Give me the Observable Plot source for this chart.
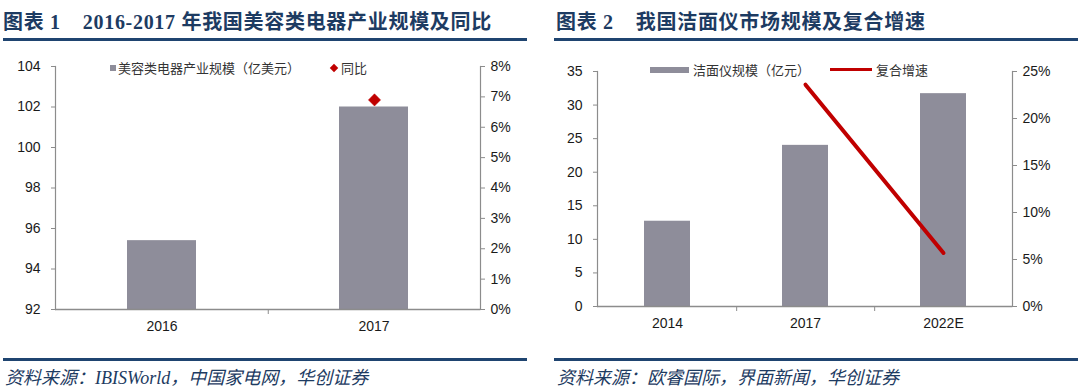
<!DOCTYPE html>
<html>
<head>
<meta charset="utf-8">
<script src="https://cdn.jsdelivr.net/npm/d3@7"></script>
<script src="https://cdn.jsdelivr.net/npm/@observablehq/plot@0.6"></script>
<style>
  html, body { margin: 0; padding: 0; background: #fff; }
  body { width: 1080px; height: 392px; position: relative; overflow: hidden; font-family: "Liberation Sans", Arial, sans-serif; }
  .title { position: absolute; top: 6px; font-family: "Liberation Serif", "Noto Sans CJK SC", serif; font-weight: 700; font-size: 20px; color: #1d3b62; white-space: nowrap; letter-spacing: 0.7px; }
  .title .gap { display: inline-block; width: 22px; }
  .hr { position: absolute; height: 2.5px; background: #1f4470; }
  .src { position: absolute; top: 363px; font-family: "Liberation Serif", "Noto Sans CJK SC", serif; font-style: italic; font-size: 18px; color: #1d3b62; white-space: nowrap; }
  .chart { position: absolute; top: 45px; }
  .legend { position: absolute; font-family: "Noto Sans CJK SC"; font-size: 13px; color: #333; white-space: nowrap; display: flex; align-items: center; }
  .sw { display: inline-block; margin-right: 2px; }
</style>
</head>
<body>
<div class="title" style="left:3px">图表 1<span class="gap"></span>2016-2017 年我国美容类电器产业规模及同比</div>
<div class="hr" style="left:3px; width:524px; top:38px"></div>
<div class="hr" style="left:3px; width:524px; top:358px"></div>
<div class="src" style="left:5px">资料来源：IBISWorld，中国家电网，华创证券</div>

<div class="title" style="left:556px">图表 2<span class="gap"></span>我国洁面仪市场规模及复合增速</div>
<div class="hr" style="left:554px; width:524px; top:38px"></div>
<div class="hr" style="left:554px; width:524px; top:358px"></div>
<div class="src" style="left:557px">资料来源：欧睿国际，界面新闻，华创证券</div>

<div id="c1a" class="chart" style="left:0px"></div>
<div id="c1b" class="chart" style="left:0px"></div>
<div id="c2a" class="chart" style="left:540px"></div>
<div id="c2b" class="chart" style="left:540px"></div>

<div class="legend" style="left:110px; top:58px">
  <span class="sw" style="width:6px;height:6px;background:#8e8d9a;margin-right:2px"></span>美容类电器产业规模（亿美元）
</div>
<div class="legend" style="left:331px; top:58px">
  <span class="sw" style="width:6px;height:6px;background:#c00000;transform:rotate(45deg);margin-right:4px"></span>同比
</div>
<div class="legend" style="left:650px; top:60px">
  <span class="sw" style="width:39px;height:6px;background:#8e8d9a;margin-right:4px"></span>洁面仪规模（亿元）
</div>
<div class="legend" style="left:830px; top:60px">
  <span class="sw" style="width:42px;height:3.5px;background:#c00000;margin-right:4px"></span>复合增速
</div>

<script>
// ---------- Data: chart 1 ----------
const years1 = ["2016", "2017"];
const scale1 = [95.4, 102.0];          // 美容类电器产业规模（亿美元）
const yoyYears1 = ["2017"];
const yoy1 = [6.9];                     // 同比 (%)
const yTicks1 = [92, 94, 96, 98, 100, 102, 104];
const pctTicks1 = [0, 1, 2, 3, 4, 5, 6, 7, 8];

// ---------- Data: chart 2 ----------
const years2 = ["2014", "2017", "2022E"];
const scale2 = [12.7, 24.0, 31.7];      // 洁面仪规模（亿元）
const cagrYears2 = ["2017", "2022E"];
const cagr2 = [23.6, 5.7];              // 复合增速 (%)
const yTicks2 = [0, 5, 10, 15, 20, 25, 30, 35];
const pctTicks2 = [0, 5, 10, 15, 20, 25];

const BAR = "#8e8d9a", RED = "#c00000", AXIS = "#8c8c8c", TXT = "#1a1a1a";
const W = 540, H = 300;
const font = {fontSize: 14, fontFamily: "'Liberation Sans', Arial, sans-serif"};

function makeCharts(el1, el2, cats, vals, lineCats, lineVals, yTicks, pTicks, m, pad, asLine) {
  const barData = cats.map((c, i) => ({c, v: vals[i]}));
  const lineData = lineCats.map((c, i) => ({c, v: lineVals[i]}));
  const yMin = yTicks[0], yMax = yTicks[yTicks.length - 1];
  const pMin = pTicks[0], pMax = pTicks[pTicks.length - 1];
  const step = (W - m.left - m.right) / cats.length;
  const xOpt = {domain: cats, paddingInner: pad, paddingOuter: pad / 2, label: null, axis: null};
  const base = {width: W, height: H, marginTop: m.top, marginBottom: m.bottom, marginLeft: m.left, marginRight: m.right,
                style: {background: "transparent", overflow: "visible", ...font}};

  const p1 = Plot.plot({
    ...base,
    x: xOpt,
    y: {domain: [yMin, yMax], label: null, axis: null},
    marks: [
      Plot.barY(barData, {x: "c", y1: yMin, y2: "v", fill: BAR}),
      Plot.ruleY([yMin], {stroke: AXIS, strokeWidth: 1.5}),
      Plot.frame({anchor: "left", stroke: AXIS, strokeWidth: 1.2}),
      Plot.axisY({ticks: yTicks, tickSize: 4, tickPadding: 11, stroke: AXIS, fill: TXT, tickFormat: d => d, label: null}),
      Plot.axisX({tickSize: 0, tickPadding: 12, fill: TXT, label: null}),
      Plot.ruleX(cats.slice(0, -1), {x: d => d, dx: step / 2, y1: yMin, y2: yMin, insetBottom: -5, stroke: AXIS, strokeWidth: 1})
    ]
  });
  document.getElementById(el1).appendChild(p1);

  const p2 = Plot.plot({
    ...base,
    x: xOpt,
    y: {domain: [pMin, pMax], label: null, axis: null},
    marks: [
      Plot.frame({anchor: "right", stroke: AXIS, strokeWidth: 1.2}),
      Plot.axisY({anchor: "right", ticks: pTicks, tickSize: 4, tickPadding: 6, stroke: AXIS, fill: TXT, tickFormat: d => d + "%", label: null}),
      asLine
        ? Plot.line(lineData, {x: "c", y: "v", stroke: RED, strokeWidth: 4})
        : Plot.dot(lineData, {x: "c", y: "v", symbol: "diamond2", r: 5.5, fill: RED, stroke: RED, strokeWidth: 0.5})
    ]
  });
  document.getElementById(el2).appendChild(p2);
}

makeCharts("c1a", "c1b", years1, scale1, yoyYears1, yoy1, yTicks1, pctTicks1,
           {top: 21, bottom: 36, left: 55, right: 60}, 0.675, false);
makeCharts("c2a", "c2b", years2, scale2, cagrYears2, cagr2, yTicks2, pctTicks2,
           {top: 26, bottom: 39, left: 57, right: 68}, 0.667, true);
</script>
</body>
</html>
